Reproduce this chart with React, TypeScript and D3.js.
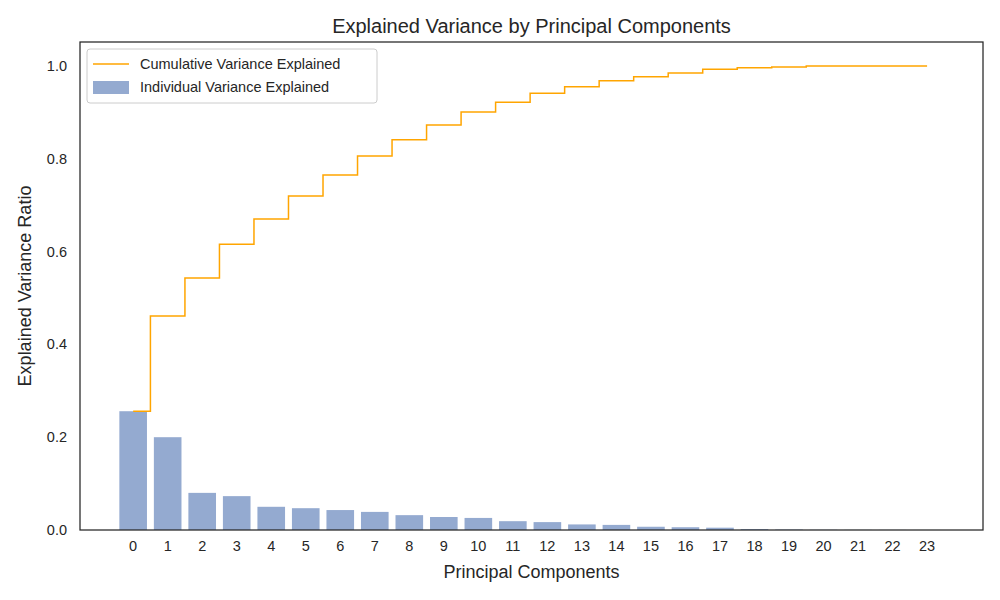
import React from "react";
import * as d3 from "d3";

const components = d3.range(24);
const individual = [0.256,0.200,0.080,0.073,0.050,0.047,0.043,0.039,0.032,0.028,0.026,0.019,0.017,0.012,0.011,0.007,0.006,0.005,0.002,0.001,0.0005,0.0003,0.0002,0.0001];
const cumulative = [0.256,0.461,0.543,0.616,0.670,0.720,0.765,0.806,0.841,0.873,0.901,0.922,0.941,0.955,0.968,0.977,0.985,0.993,0.996,0.998,1.0,1.0,1.0,1.0];
const yTicks = [0, 0.2, 0.4, 0.6, 0.8, 1.0];

export default function App() {
  const L = 80, R = 983, T = 42, B = 530;
  const x = d3.scaleLinear().domain([-1.54, 24.62]).range([L, R]);
  const y = d3.scaleLinear().domain([0, 1.0517]).range([B, T]);
  const line = d3.line<number>().x((_, i) => x(i)).y(d => y(d)).curve(d3.curveStep);
  const bw = x(0.8) - x(0);
  const font = "Liberation Sans, Arial, sans-serif";
  return (
    <svg width={1000} height={600} style={{ position: "absolute", left: 0, top: 0, fontFamily: font }}>
      <rect width={1000} height={600} fill="white" />
      {components.map(i => (
        <rect key={i} x={x(i) - bw / 2} width={bw} y={y(individual[i])} height={B - y(individual[i])} fill="#4c72b0" fillOpacity={0.6} />
      ))}
      <path d={line(cumulative) || ""} fill="none" stroke="orange" strokeWidth={1.5} />
      <rect x={L} y={T} width={R - L} height={B - T} fill="none" stroke="#262626" strokeWidth={1.25} />
      {components.map(i => (
        <text key={i} x={x(i)} y={B + 21} textAnchor="middle" fontSize={14.5} fill="#262626">{i}</text>
      ))}
      {yTicks.map(t => (
        <text key={t} x={L - 13} y={y(t) + 5} textAnchor="end" fontSize={14.5} fill="#262626">{t.toFixed(1)}</text>
      ))}
      <text x={(L + R) / 2} y={578} textAnchor="middle" fontSize={18} fill="#262626">Principal Components</text>
      <text transform={`translate(31,${(T + B) / 2}) rotate(-90)`} textAnchor="middle" fontSize={18} fill="#262626">Explained Variance Ratio</text>
      <text x={(L + R) / 2} y={33} textAnchor="middle" fontSize={20} fill="#262626">Explained Variance by Principal Components</text>
      <g>
        <rect x={87} y={49} width={290} height={54} rx={3} fill="white" fillOpacity={0.8} stroke="#cccccc" />
        <line x1={93} x2={129} y1={64} y2={64} stroke="orange" strokeWidth={1.5} />
        <text x={140} y={69} fontSize={14.5} fill="#262626">Cumulative Variance Explained</text>
        <rect x={93} y={81} width={36} height={13} fill="#4c72b0" fillOpacity={0.6} />
        <text x={140} y={92} fontSize={14.5} fill="#262626">Individual Variance Explained</text>
      </g>
    </svg>
  );
}
